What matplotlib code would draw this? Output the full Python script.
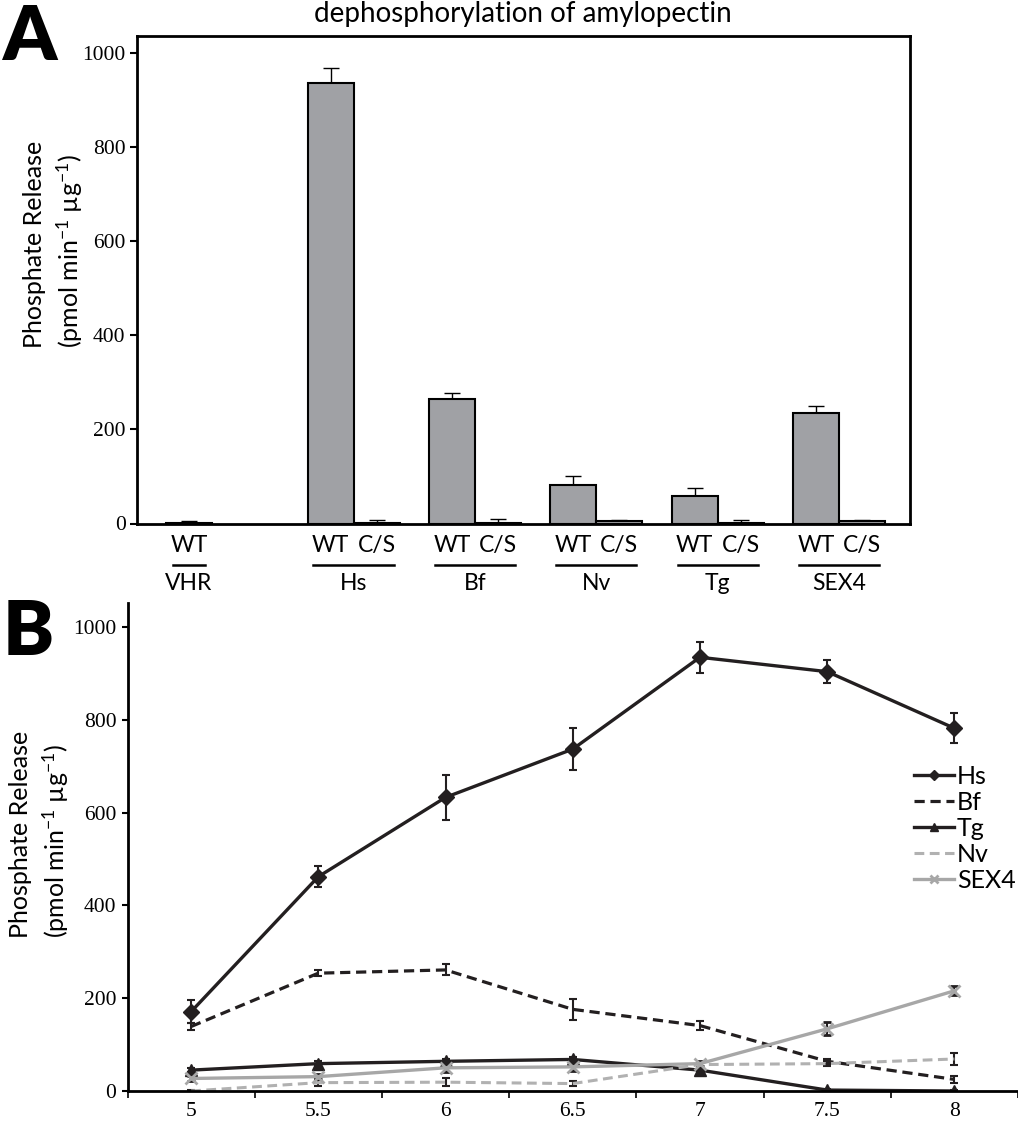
import numpy as np
import matplotlib
matplotlib.use('Agg')
import matplotlib.pyplot as plt

plt.rcParams['font.family'] = ['Lato', 'DejaVu Sans']
plt.rcParams['mathtext.fontset'] = 'custom'
plt.rcParams['mathtext.rm'] = 'Lato'
plt.rcParams['mathtext.it'] = 'Lato:italic'
plt.rcParams['mathtext.bf'] = 'Lato:bold'

W, H = 1018, 1127

# ---- panel A data (bars) ----
groups = ['VHR', 'Hs', 'Bf', 'Nv', 'Tg', 'SEX4']
wt_vals = [2, 937, 264, 82, 59, 234]
wt_err = [4, 32, 13, 19, 16, 16]
cs_vals = [np.nan, 2, 2, 5, 2, 5]   # no C/S mutant for VHR
cs_err = [np.nan, 6, 8, 3, 5, 3]
a_ticks = [0, 200, 400, 600, 800, 1000]

# ---- panel B data (pH profile) ----
ph = [5, 5.5, 6, 6.5, 7, 7.5, 8]
hs = [171, 462, 633, 737, 935, 904, 782]
hs_err = [25, 22, 48, 45, 33, 25, 32]
bf = [139, 254, 261, 176, 141, 64, 25]
bf_err = [8, 6, 12, 22, 9, 5, 8]
tg = [45, 59, 64, 68, 45, 2, 0]
tg_err = [5, 5, 5, 5, 5, 3, 3]
nv = [0, 18, 19, 16, 57, 59, 69]
nv_err = [3, 8, 8, 6, 5, 5, 12]
sex4 = [27, 31, 50, 52, 59, 134, 216]
sex4_err = [5, 6, 8, 8, 6, 14, 10]


def fx(px):
    return px / W


def fy(py):
    return 1 - py / H


dark = '#231f20'
tick_font = dict(family=['Liberation Serif', 'DejaVu Serif'], size=15.5)
ylab1 = 'Phosphate Release'
ylab2 = '(pmol min$^{\\mathrm{-1}}$ µg$^{\\mathrm{-1}}$)'

fig = plt.figure(figsize=(W / 100, H / 100), dpi=100)

# ================= panel A =================
axA = fig.add_axes([fx(136.7), fy(523.5), fx(910) - fx(136.7), fy(35.7) - fy(523.5)])
bar_w = 0.379
idx = np.arange(len(groups))
group_x = idx + np.where(idx > 0, 0.166, 0.0)
cs_x = group_x + bar_w

axA.bar(group_x, wt_vals, bar_w, color='#a0a1a5', edgecolor='black', linewidth=1.5, zorder=2)
axA.bar(cs_x, cs_vals, bar_w, color='#a0a1a5', edgecolor='black', linewidth=1.5, zorder=2)
axA.errorbar(group_x, wt_vals, yerr=[np.zeros(len(groups)), wt_err], fmt='none',
             ecolor='black', elinewidth=1, capsize=6, capthick=1, zorder=1)
axA.errorbar(cs_x, cs_vals, yerr=[np.zeros(len(groups)), cs_err], fmt='none',
             ecolor='black', elinewidth=1, capsize=6, capthick=1, zorder=1)

axA.set_xlim(-0.431, 5.94)
axA.set_ylim(0, 1037)
axA.set_yticks(a_ticks)
axA.set_yticklabels([str(t) for t in a_ticks], fontdict=tick_font)
axA.set_xticks([])
axA.tick_params(axis='y', direction='out', length=5, width=1.5, pad=3)
for s in axA.spines.values():
    s.set_linewidth(2)

# category labels under the bars
trans = axA.get_xaxis_transform()
for i, g in enumerate(groups):
    axA.text(group_x[i], -0.045, 'WT', transform=trans, ha='center', va='center', fontsize=16.5)
    if np.isnan(cs_vals[i]):
        mid, half = group_x[i], 0.13
    else:
        axA.text(cs_x[i], -0.045, 'C/S', transform=trans, ha='center', va='center', fontsize=16.5)
        mid, half = group_x[i] + bar_w / 2, 0.33
    axA.plot([mid - half, mid + half], [-0.085, -0.085], transform=trans, color='black',
             lw=1.8, clip_on=False)
    axA.text(mid, -0.124, g, transform=trans, ha='center', va='center', fontsize=16.5)

fig.text(fx(523), fy(14), 'dephosphorylation of amylopectin', ha='center', va='center', fontsize=20)
fig.text(fx(3), fy(3), 'A', ha='left', va='top', fontsize=55, fontweight='heavy')
fig.text(fx(34), fy(348), ylab1, rotation=90, rotation_mode='anchor', ha='left', va='center', fontsize=18)
fig.text(fx(70), fy(348), ylab2, rotation=90, rotation_mode='anchor', ha='left', va='center', fontsize=18)

# ================= panel B =================
axB = fig.add_axes([fx(127.5), fy(1091), 1 - fx(127.5), fy(603) - fy(1091)])
ebar = dict(ecolor=dark, elinewidth=1.5, capsize=3, capthick=1.5)
series = [
    ('Hs', hs, hs_err, dict(color=dark, lw=2.4, marker='D', ms=8)),
    ('Bf', bf, bf_err, dict(color=dark, lw=2.3, ls=(0, (3.2, 1.8)))),
    ('Tg', tg, tg_err, dict(color=dark, lw=2.4, marker='^', ms=9)),
    ('Nv', nv, nv_err, dict(color='#b1b1b1', lw=2.2, ls=(0, (3.2, 1.8)))),
    ('SEX4', sex4, sex4_err, dict(color='#a7a7a7', lw=2.4, marker='x', ms=9, mew=2)),
]
handles = []
for name, vals, err, style in series:
    cont = axB.errorbar(ph, vals, yerr=err, label=name, **style, **ebar)
    handles.append(cont[0])

axB.set_xlim(ph[0] - 0.25, ph[-1] + 0.25)
axB.set_ylim(0, 1052)
axB.set_yticks(a_ticks)
axB.set_yticklabels([str(t) for t in a_ticks], fontdict=tick_font)
axB.set_xticks(ph)
axB.set_xticklabels([f'{p:g}' for p in ph], fontdict=tick_font)
axB.set_xticks(np.array(ph + [ph[-1] + 0.5]) - 0.25, minor=True)
axB.tick_params(axis='x', which='major', length=0, pad=8)
axB.tick_params(axis='x', which='minor', direction='out', length=5, width=1.2)
axB.tick_params(axis='y', direction='out', length=4, width=1.5, pad=4)
axB.spines['top'].set_visible(False)
axB.spines['right'].set_visible(False)
axB.spines['left'].set_linewidth(2)
axB.spines['bottom'].set_linewidth(2)

axB.legend(handles, [s[0] for s in series], loc='upper left',
           bbox_to_anchor=(fx(914), fy(765)), bbox_transform=fig.transFigure,
           frameon=False, fontsize=18, borderpad=0, borderaxespad=0, handlelength=1.6,
           handletextpad=0.12, labelspacing=0.12, markerscale=0.7)

fig.text(fx(3), fy(598), 'B', ha='left', va='top', fontsize=55, fontweight='heavy')
fig.text(fx(20), fy(938), ylab1, rotation=90, rotation_mode='anchor', ha='left', va='center', fontsize=18)
fig.text(fx(56), fy(938), ylab2, rotation=90, rotation_mode='anchor', ha='left', va='center', fontsize=18)

fig.savefig('out.png', dpi=100)
